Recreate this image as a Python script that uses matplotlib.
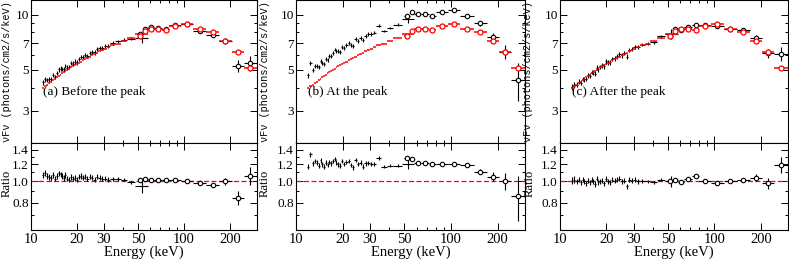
import numpy as np
import matplotlib
matplotlib.use('Agg')
import matplotlib.pyplot as plt
from matplotlib.ticker import FixedLocator, FuncFormatter, NullFormatter

plt.rcParams['font.family'] = ['Liberation Serif', 'DejaVu Serif']
plt.rcParams['font.size'] = 10.5

# energy bins (keV): low-energy instrument (crosses) and high-energy instrument (circles)
low_edges = [11.8, 12.2, 12.6, 13.0, 13.4, 13.8, 14.2, 14.6, 15.0, 15.4, 15.8, 16.2, 16.6,
             17.0, 17.5, 18.0, 18.5, 19.0, 19.6, 20.2, 20.8, 21.5, 22.2, 23.0, 23.8, 24.7,
             25.6, 26.6, 27.6, 28.7, 29.9, 31.2, 33.0, 35.5, 38.5, 42.5, 48.0, 58.0]
high_edges = [50, 54, 58, 64, 72, 80, 95, 115, 140, 170, 205, 245, 300]

# model nuFnu (same for the three panels)
model_low = [4.00, 4.08, 4.15, 4.23, 4.30, 4.38, 4.45, 4.55, 4.62, 4.70, 4.78, 4.85, 4.92,
             5.00, 5.08, 5.18, 5.25, 5.33, 5.40, 5.48, 5.55, 5.63, 5.72, 5.80, 5.90, 6.00,
             6.10, 6.20, 6.30, 6.42, 6.52, 6.65, 6.80, 6.95, 7.15, 7.45, 7.85]
model_high = [7.64, 8.13, 8.37, 8.30, 8.23, 8.65, 8.83, 8.30, 8.06, 7.18, 6.28, 5.15]

# data / model ratios
ratio_low_a = [1.07, 1.09, 1.06, 1.05, 1.04, 1.07, 1.03, 1.06, 1.09, 1.08, 1.06, 1.04, 1.07,
               1.03, 1.02, 1.05, 1.03, 1.04, 1.02, 1.05, 1.06, 1.04, 1.05, 1.03, 1.05, 1.04,
               1.02, 1.05, 1.04, 1.03, 1.03, 1.02, 1.03, 1.03, 1.02, 0.99, 0.95]
ratio_high_a = [1.02, 1.03, 1.02, 1.02, 1.02, 1.015, 1.01, 0.98, 0.96, 1.00, 0.84, 1.06]

ratio_low_b = [1.17, 1.33, 1.21, 1.24, 1.22, 1.18, 1.25, 1.20, 1.17, 1.22, 1.19, 1.23, 1.21,
               1.24, 1.27, 1.22, 1.20, 1.18, 1.24, 1.20, 1.23, 1.24, 1.19, 1.16, 1.25, 1.20,
               1.22, 1.17, 1.21, 1.22, 1.20, 1.20, 1.28, 1.17, 1.18, 1.18, 1.20]
ratio_high_b = [1.28, 1.27, 1.21, 1.22, 1.20, 1.20, 1.20, 1.19, 1.11, 1.05, 1.00, 0.86]

ratio_low_c = [1.01, 1.02, 1.00, 1.02, 0.99, 1.02, 1.00, 0.98, 1.01, 0.99, 1.02, 1.00, 0.97,
               1.03, 0.99, 1.00, 1.01, 0.98, 1.03, 1.00, 0.99, 1.02, 1.01, 1.02, 1.03, 1.00,
               1.01, 0.95, 1.02, 1.01, 1.02, 1.00, 1.01, 1.00, 0.99, 1.02, 1.00]
ratio_high_c = [1.00, 1.02, 0.99, 1.03, 1.06, 1.01, 0.98, 1.01, 1.02, 1.04, 0.98, 1.19]

err_low = [0.035, 0.035, 0.03, 0.03, 0.03, 0.03, 0.03, 0.03, 0.03, 0.03, 0.03, 0.03, 0.03,
           0.03, 0.03, 0.03, 0.03, 0.03, 0.03, 0.028, 0.028, 0.028, 0.028, 0.028, 0.028, 0.028,
           0.028, 0.028, 0.028, 0.025, 0.025, 0.025, 0.022, 0.02, 0.02, 0.02, 0.06]
err_high_a = [0.01, 0.015, 0.01, 0.01, 0.01, 0.01, 0.01, 0.015, 0.02, 0.035, 0.06, 0.10]
err_high_b = [0.015, 0.02, 0.015, 0.015, 0.015, 0.015, 0.015, 0.02, 0.03, 0.05, 0.09, 0.20]
err_high_c = [0.01, 0.015, 0.015, 0.015, 0.015, 0.015, 0.015, 0.015, 0.02, 0.04, 0.06, 0.10]

titles = ['(a) Before the peak', '(b) At the peak', '(c) After the peak']
x_ticks = [10, 20, 30, 50, 100, 200]
flux_ticks = [3, 5, 7, 10]
ratio_ticks = [0.8, 1.0, 1.2, 1.4]


def bins(edges):
    edges = np.array(edges, dtype=float)
    centre = np.sqrt(edges[:-1] * edges[1:])
    return centre, np.vstack([centre - edges[:-1], edges[1:] - centre])


def style_axis(ax):
    ax.set_xscale('log')
    ax.set_xlim(10, 300)
    ax.xaxis.set_major_locator(FixedLocator(x_ticks))
    ax.xaxis.set_minor_locator(FixedLocator([40, 60, 70, 80, 90, 300]))
    ax.xaxis.set_major_formatter(FuncFormatter(lambda v, p: '%d' % v))
    ax.xaxis.set_minor_formatter(NullFormatter())
    ax.tick_params(which='both', direction='in', top=True, right=True, width=0.7)
    ax.tick_params(which='major', length=5, pad=2)
    ax.tick_params(which='minor', length=2.5)
    ax.tick_params(axis='y', labelsize=9.5, pad=1.5)
    for s in ax.spines.values():
        s.set_linewidth(0.8)


def draw_panel(left, width, ratio_low, ratio_high, err_high, title, lab_top, lab_bot):
    top = fig.add_axes([left / 789, 0.45, width / 789, 0.55])
    bot = fig.add_axes([left / 789, 0.1154, width / 789, 0.3346])
    xl, xel = bins(low_edges)
    xh, xeh = bins(high_edges)
    ml = np.array(model_low)
    mh = np.array(model_high)
    rl = np.array(ratio_low)
    rh = np.array(ratio_high)
    el = np.array(err_low)
    eh = np.array(err_high)

    # upper: data and model
    top.errorbar(xl, ml * rl, xerr=xel, yerr=ml * el, fmt='none', ecolor='black', elinewidth=0.8)
    top.errorbar(xh, mh * rh, xerr=xeh, yerr=mh * eh, fmt='o', color='black', ms=3.2,
                 mfc='white', mew=0.8, elinewidth=0.8)
    top.errorbar(xl, ml, xerr=xel, fmt='none', ecolor='red', elinewidth=1.1)
    top.errorbar(xh, mh, xerr=xeh, fmt='o', color='red', ms=3.6, mfc='white', mew=0.9,
                 elinewidth=1.1)
    style_axis(top)
    top.set_yscale('log')
    top.set_ylim(2, 12)
    top.yaxis.set_major_locator(FixedLocator(flux_ticks))
    top.yaxis.set_minor_locator(FixedLocator([2, 4, 6, 8, 9]))
    top.yaxis.set_major_formatter(FuncFormatter(lambda v, p: '%d' % v))
    top.yaxis.set_minor_formatter(NullFormatter())
    top.tick_params(labelbottom=False)
    top.set_ylabel('\u03bdF\u03bd (photons/cm2/s/keV)', family=['Liberation Mono', 'DejaVu Sans Mono'],
                   fontsize=7.3)
    top.yaxis.set_label_coords(-lab_top / width, 0.5)
    top.text(0.053, 0.36, title, transform=top.transAxes, va='center', ha='left', fontsize=9.5)

    # lower: ratio
    bot.axhline(1.0, color='red', lw=0.9, ls=(0, (4, 2)))
    bot.errorbar(xl, rl, xerr=xel, yerr=el, fmt='none', ecolor='black', elinewidth=0.8)
    bot.errorbar(xh, rh, xerr=xeh, yerr=eh, fmt='o', color='black', ms=3.2, mfc='white',
                 mew=0.8, elinewidth=0.8)
    style_axis(bot)
    bot.set_yscale('log')
    bot.set_ylim(0.6, 1.5)
    bot.yaxis.set_major_locator(FixedLocator(ratio_ticks))
    bot.yaxis.set_minor_locator(FixedLocator([0.6, 0.7, 0.9, 1.1, 1.3, 1.5]))
    bot.yaxis.set_major_formatter(FuncFormatter(lambda v, p: '%.1f' % v))
    bot.yaxis.set_minor_formatter(NullFormatter())
    bot.set_ylabel('Ratio', fontsize=9)
    bot.yaxis.set_label_coords(-lab_bot / width, 0.54)
    bot.set_xlabel('Energy (keV)', labelpad=0)


fig = plt.figure(figsize=(7.89, 2.60), dpi=100)
draw_panel(31, 226, ratio_low_a, ratio_high_a, err_high_a, titles[0], 19, 18)
draw_panel(296, 229, ratio_low_b, ratio_high_b, err_high_b, titles[1], 26, 25)
draw_panel(560, 228, ratio_low_c, ratio_high_c, err_high_c, titles[2], 27, 24)
fig.savefig('out.png', dpi=100)
